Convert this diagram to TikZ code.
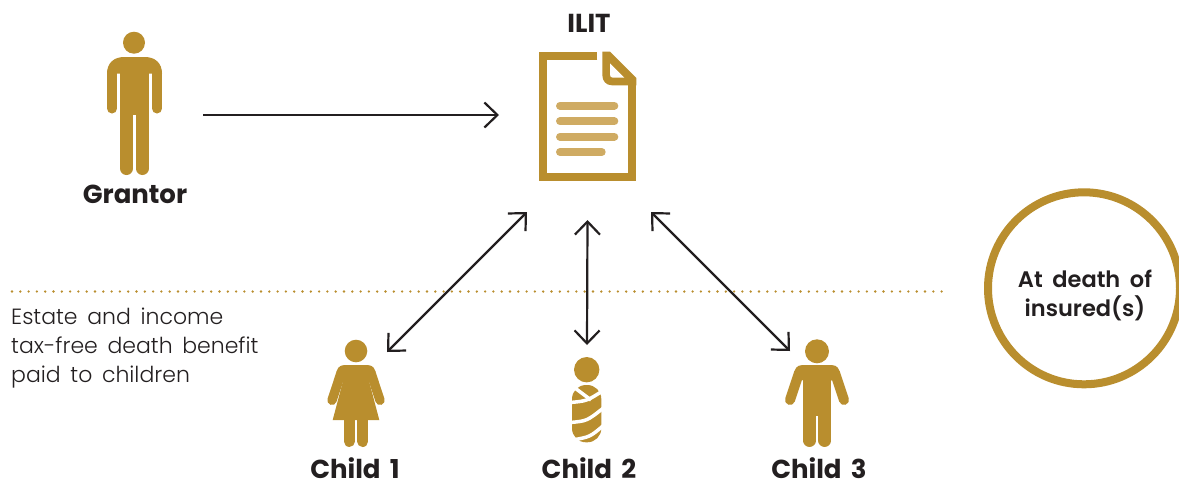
\documentclass[tikz,border=0pt]{standalone}
\usepackage{fontspec}
\setmainfont{Poppins}[WordSpace=1.7]
\newfontfamily\lightfont{Poppins Light}[WordSpace=1.6]
\newfontfamily\midfont{Poppins SemiBold}[WordSpace=1.8]
\usetikzlibrary{arrows.meta}
\definecolor{gold}{HTML}{B98E2E}
\definecolor{paleGold}{HTML}{CFAB63}
\definecolor{ink}{HTML}{231F20}
\begin{document}
\begin{tikzpicture}[x=1pt, y=-1pt,
		iconbox/.style={inner sep=0pt, outer sep=0pt},
		link/.style={draw=ink, line width=2.2pt, -{Straight Barb[length=13pt, width=25pt]}},
		twoway/.style={link, {Straight Barb[length=13pt, width=25pt]}-{Straight Barb[length=13pt, width=25pt]}},
		title/.style={text=ink, inner sep=0pt, font=\fontsize{26}{29}\selectfont\bfseries},
		txt/.style={text=ink, font=\fontsize{22}{29}\lightfont, align=left, anchor=north west, inner sep=0pt},
		limb/.style={draw=gold, line cap=round}]
	\useasboundingbox (0, 0) rectangle (1179, 483);

	\node[iconbox, minimum width=138pt, minimum height=120pt] (grantor) at (134, 115) {};
	\node[iconbox, minimum width=124pt, minimum height=161pt] (ilit) at (589, 131.5) {};
	\node[iconbox, minimum width=62pt, minimum height=95pt] (child1) at (356, 399.5) {};
	\node[iconbox, minimum width=40pt, minimum height=98pt] (child2) at (587, 394) {};
	\node[iconbox, minimum width=54pt, minimum height=96pt] (child3) at (817, 399) {};
	\coordinate (ilitin) at (499, 115);
	\coordinate (lineleft) at (12, 291.5);
	\coordinate (lineright) at (943, 291.5);

	% grantor
	\fill[gold] (134, 42.7) circle (11);
	\fill[gold] (107, 73.5) .. controls (107, 63) and (114, 57) .. (124, 57) -- (145, 57) .. controls (155, 57) and (162, 63) .. (162, 73.5) -- cycle;
	\fill[gold] (120, 70) rectangle (149, 115);
	\foreach \x in {112, 157}
		\draw[limb, line width=10pt] (\x, 72) -- (\x, 108.5);
	\foreach \x in {126.5, 142.4}
		\draw[limb, line width=13pt] (\x, 110) -- (\x, 168.5);

	% document
	\draw[gold, line width=8pt] (597.3, 55.7) -- (543, 55.7) -- (543, 176.7) -- (632.3, 176.7) -- (632.3, 78);
	\fill[gold] (602.3, 51.7) -- (610, 51.7) -- (636.3, 78) -- (636.3, 85.3) -- (612, 85.3) .. controls (606, 85.3) and (602.3, 81) .. (602.3, 75) -- cycle;
	\fill[white] (610, 63.3) -- (624.3, 77.7) -- (613, 77.7) .. controls (611, 77.7) and (610, 76.5) .. (610, 74.5) -- cycle;
	\foreach \y/\x in {105.7/614.3, 121.3/614.3, 136.7/614.3, 152/601.7}
		\draw[paleGold, line width=8pt, line cap=round] (560, \y) -- (\x, \y);

	% child 1
	\fill[gold] (356, 351) circle (11.3);
	\fill[gold] (336.5, 371.5) .. controls (338.5, 365) and (342, 365) .. (348, 365) -- (364, 365) .. controls (370, 365) and (373.5, 365) .. (375.5, 371.5)
		-- (369, 381) -- (379.3, 420) -- (332.7, 420) -- (343, 381) -- cycle;
	\draw[limb, line width=9.4pt] (371, 373) -- (380, 400.3);
	\draw[limb, line width=9.4pt] (341, 373) -- (332, 400.3);
	\draw[limb, line width=10.7pt] (349.3, 415) -- (349.3, 441.6);
	\draw[limb, line width=11pt] (362.8, 415) -- (362.8, 441.5);

	% child 2
	\fill[gold] (586.7, 369.7) circle (12.7);
	\fill[gold, rounded corners=14] (572, 385) rectangle (601.3, 442.3);
	\foreach \ax/\ay/\cx/\cy/\bx/\by in {570/402.5/587/401/604/390, 570/422.5/587/421/604/407.5, 572/440/590/437/604/425}
		\draw[white, line width=3.5pt] (\ax, \ay) .. controls (\cx, \cy) .. (\bx, \by);
	\draw[white, line width=3.5pt] (575, 388) -- (591, 400);

	% child 3
	\fill[gold] (817, 351.3) circle (12);
	\fill[gold] (794.3, 371.4) .. controls (796.5, 365) and (800, 365) .. (806, 365) -- (828, 365) .. controls (834, 365) and (837.5, 365) .. (839.7, 371.4)
		-- (831, 381) -- (803.3, 381) -- cycle;
	\fill[gold] (803.3, 378) rectangle (831, 416);
	\draw[limb, line width=10pt] (835, 373) -- (844, 400);
	\draw[limb, line width=10pt] (799, 373) -- (790, 400);
	\foreach \x in {809.6, 824.7}
		\draw[limb, line width=12.7pt] (\x, 410) -- (\x, 440.6);

	% dotted divider and circle
	\draw[gold, line width=2.6pt, line cap=round, dash pattern=on 0pt off 8.3pt] (lineleft) -- (lineright);
	\node[circle, draw=gold, line width=8pt, minimum size=192pt, inner sep=0pt] (death) at (1084, 288.3) {};
	\node[text=ink, align=center, anchor=base, font=\fontsize{22.5}{29}\midfont] (deathlabel) at (1085, 316) {At death of\\insured(s)};

	\node[title, anchor=base] (grantorlabel) at (135, 203) {Grantor};
	\node[title, anchor=base] (ilitlabel) at (589, 32) {ILIT};
	\node[title, anchor=base] (child1label) at (355, 478.5) {Child 1};
	\node[title, anchor=base] (child2label) at (589, 478.5) {Child 2};
	\node[title, anchor=base] (child3label) at (819, 478.5) {Child 3};
	\node[txt] (note) at (11, 308) {Estate and income\\tax-free death benefit\\paid to children};

	\draw[link] (grantor.east) -- (ilitin);
	\draw[twoway] (ilit.south west) -- (child1.north east);
	\draw[twoway] ([xshift=-1.5pt, yshift=-8pt]ilit.south) -- (child2.north);
	\draw[twoway] (ilit.south east) -- (child3.north west);
\end{tikzpicture}
\end{document}
